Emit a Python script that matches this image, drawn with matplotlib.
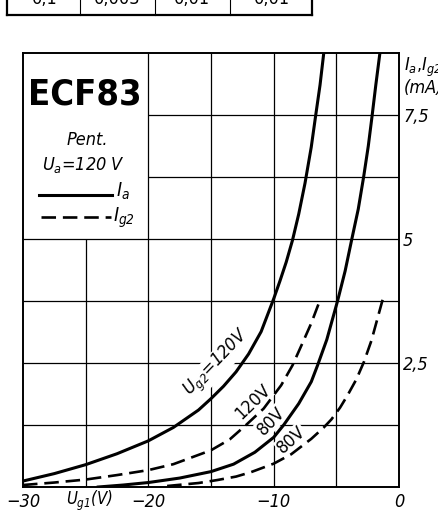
import matplotlib
matplotlib.use('Agg')
import matplotlib.pyplot as plt
from matplotlib.lines import Line2D

plt.rcParams['font.family'] = ['DejaVu Sans']
plt.rcParams['font.stretch'] = 'condensed'
plt.rcParams['mathtext.fontset'] = 'custom'
plt.rcParams['mathtext.rm'] = 'DejaVu Sans:italic:stretch=condensed'
plt.rcParams['mathtext.it'] = 'DejaVu Sans:italic:stretch=condensed'

# grid voltage Ug1 (V) and currents (mA)
ug_ia120 = [-30, -27.5, -25, -22.5, -20, -18, -16, -15, -14, -13, -12, -11, -10, -9.5, -9, -8.5, -8, -7.5, -7, -6.64, -6.3, -6.0]
ia120 = [0.12, 0.27, 0.45, 0.67, 0.93, 1.2, 1.55, 1.78, 2.03, 2.32, 2.68, 3.13, 3.79, 4.15, 4.53, 4.97, 5.5, 6.12, 6.85, 7.5, 8.1, 8.75]

ug_ig120 = [-30, -27.5, -25, -22.5, -20, -18, -15, -13.5, -12.2, -10.8, -9.4, -8.5, -7.7, -7.0, -6.25]
ig120 = [0.04, 0.09, 0.15, 0.24, 0.34, 0.46, 0.74, 0.96, 1.25, 1.58, 2.05, 2.45, 2.9, 3.3, 3.8]

ug_ia80 = [-24, -22, -20, -17.5, -15, -13.2, -11.5, -10, -9.2, -8, -7, -6.5, -5.76, -4.9, -4.3, -3.76, -3.25, -2.82, -2.45, -2.16, -1.85, -1.52]
ia80 = [0.0, 0.04, 0.09, 0.18, 0.31, 0.46, 0.7, 1.0, 1.25, 1.68, 2.12, 2.45, 2.97, 3.75, 4.35, 5.0, 5.6, 6.25, 6.87, 7.45, 8.1, 8.75]

ug_ig80 = [-18.5, -16, -14.5, -13, -11.8, -10, -8.6, -7.0, -6.0, -5.4, -4.7, -4.1, -3.4, -2.8, -2.2, -1.3]
ig80 = [0.02, 0.08, 0.14, 0.21, 0.3, 0.47, 0.66, 0.97, 1.2, 1.36, 1.6, 1.85, 2.17, 2.52, 2.95, 3.78]

xticks = [-30, -20, -10, 0]
xticklabels = ['\u221230', '\u221220', '\u221210', '0']
yticks = [2.5, 5, 7.5]
yticklabels = ['2,5', '5', '7,5']

# table row cut off at the top of the page
table_vals = ['0,1', '0,003', '0,01', '0,01']

W, H = 438, 515
fig = plt.figure(figsize=(W / 100, H / 100), dpi=100)
fig.patch.set_facecolor('white')


def fx(px):
    return px / W


def fy(py):
    return 1 - py / H


# --- remains of the table above ---
fig.add_artist(Line2D([fx(7), fx(312)], [fy(15), fy(15)], color='black', lw=1.6))
for px in [7, 80, 155, 230, 312]:
    fig.add_artist(Line2D([fx(px), fx(px)], [fy(0), fy(15)], color='black',
                          lw=1.6 if px in (7, 312) else 0.8))
for px, s in zip([45, 117, 192, 272], table_vals):
    fig.text(fx(px), fy(4), s, ha='center', va='baseline', fontsize=13)

# --- main chart ---
ax = fig.add_axes([23 / W, 28 / H, 376 / W, 434.3 / H])
ax.set_xlim(-30, 0)
ax.set_ylim(0, 8.75)
for sp in ax.spines.values():
    sp.set_linewidth(1.4)

glw = 0.9
ax.vlines([-20, -15, -10, -5], 0, 8.75, color='black', lw=glw, zorder=1)
ax.vlines([-25], 0, 5, color='black', lw=glw, zorder=1)
ax.hlines([1.25, 2.5, 3.75, 5], -30, 0, color='black', lw=glw, zorder=1)
ax.hlines([6.25, 7.5], -20, 0, color='black', lw=glw, zorder=1)

dash = (5.5, 2.6)
ax.plot(ug_ia120, ia120, color='black', lw=2.2, zorder=3)
ax.plot(ug_ia80, ia80, color='black', lw=2.2, zorder=3)
l1, = ax.plot(ug_ig120, ig120, color='black', lw=1.9, zorder=3)
l2, = ax.plot(ug_ig80, ig80, color='black', lw=1.9, zorder=3)
for l in (l1, l2):
    l.set_dashes(dash)

wb = dict(facecolor='white', edgecolor='none', pad=0.5)
ax.text(-14.48, 2.49, r'$U_{g2}$=120V', rotation=46, ha='center', va='center',
        fontsize=13, style='italic', bbox=wb, zorder=2)
ax.text(-11.65, 1.71, '120V', rotation=44, ha='center', va='center',
        fontsize=13, bbox=wb, zorder=2)
ax.text(-10.2, 1.33, '80V', rotation=46, ha='center', va='center',
        fontsize=13, bbox=wb, zorder=2)
ax.text(-8.58, 0.95, '80V', rotation=42, ha='center', va='center',
        fontsize=13, bbox=wb, zorder=2)

# legend block
ax.text(-25.05, 7.9, 'ECF83', ha='center', va='center', fontsize=26, fontweight='bold')
ax.text(-24.9, 6.99, 'Pent.', ha='center', va='center', fontsize=13, style='italic')
ax.text(-25.2, 6.49, r'$U_a$=120 V', ha='center', va='center', fontsize=13, style='italic')
ax.plot([-28.7, -22.9], [5.88, 5.88], color='black', lw=2.2)
ax.text(-22.6, 5.95, r'$I_a$', ha='left', va='center', fontsize=14)
ld, = ax.plot([-28.6, -23.0], [5.44, 5.44], color='black', lw=1.9)
ld.set_dashes(dash)
ax.text(-22.85, 5.42, r'$I_{g2}$', ha='left', va='center', fontsize=14)

# axes labels and ticks
ax.set_xticks(xticks)
ax.set_xticklabels(xticklabels, fontsize=13, style='italic')
ax.yaxis.tick_right()
ax.set_yticks(yticks)
ax.set_yticklabels(yticklabels, fontsize=13, style='italic')
ax.tick_params(length=0)
ax.tick_params(axis='x', pad=4)
ax.tick_params(axis='y', pad=3)

ax.text(-24.7, -0.36, r'$U_{g1}$(V)', ha='center', va='baseline', fontsize=12, style='italic')
fig.text(fx(404), fy(67), r'$I_a$,$I_{g2}$', ha='left', va='center', fontsize=13)
fig.text(fx(404), fy(88), '(mA)', ha='left', va='center', fontsize=13, style='italic')

fig.savefig('out.png', dpi=100)
